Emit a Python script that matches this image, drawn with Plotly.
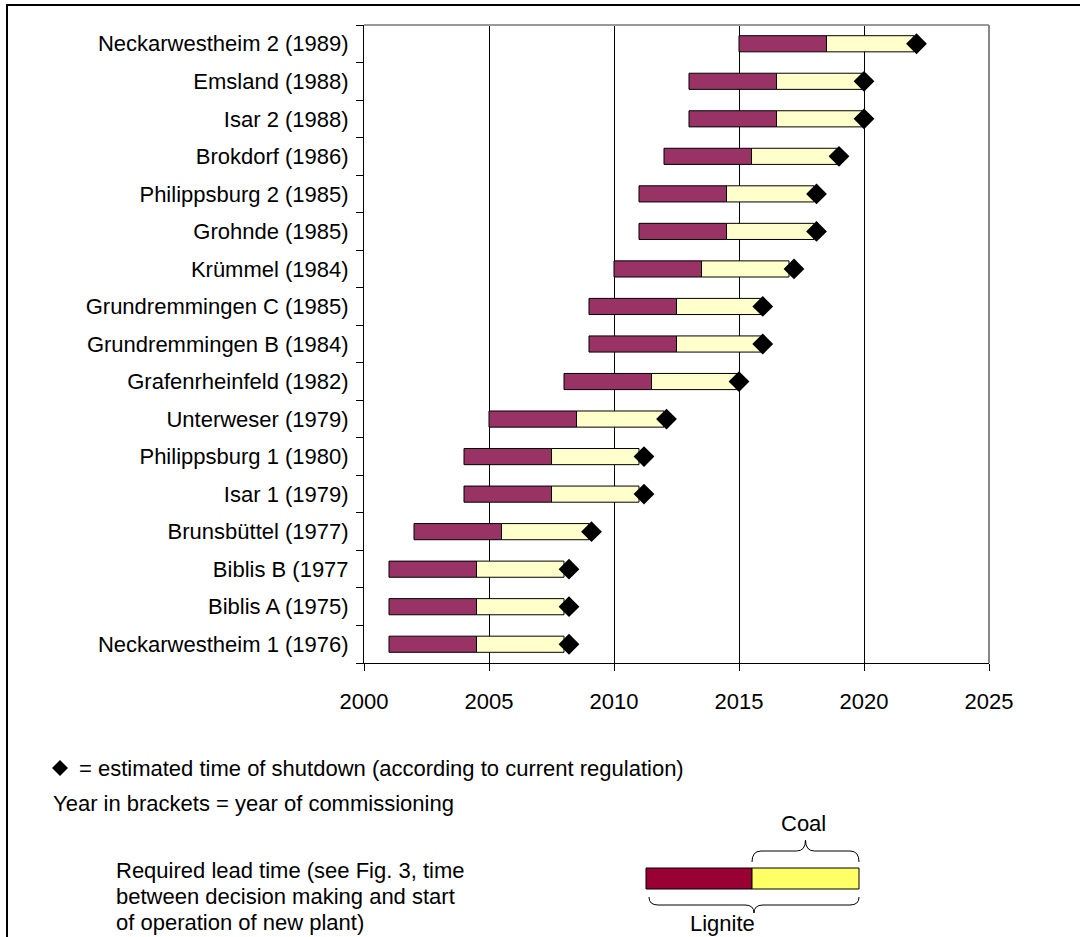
import plotly.graph_objects as go

# Plants (top to bottom as listed in the chart) with commissioning year in brackets
plants = [
    "Neckarwestheim 2 (1989)", "Emsland (1988)", "Isar 2 (1988)", "Brokdorf (1986)",
    "Philippsburg 2 (1985)", "Grohnde (1985)", "Krümmel (1984)", "Grundremmingen C (1985)",
    "Grundremmingen B (1984)", "Grafenrheinfeld (1982)", "Unterweser (1979)",
    "Philippsburg 1 (1980)", "Isar 1 (1979)", "Brunsbüttel (1977)", "Biblis B (1977",
    "Biblis A (1975)", "Neckarwestheim 1 (1976)",
]
# Year a lignite plant decision is needed (start of bar)
lignite_decision = [2015, 2013, 2013, 2012, 2011, 2011, 2010, 2009, 2009, 2008,
                    2005, 2004, 2004, 2002, 2001, 2001, 2001]
# Year a coal plant decision is needed (colour change)
coal_decision = [2018.5, 2016.5, 2016.5, 2015.5, 2014.5, 2014.5, 2013.5, 2012.5, 2012.5,
                 2011.5, 2008.5, 2007.5, 2007.5, 2005.5, 2004.5, 2004.5, 2004.5]
# Start of operation of the replacement plant (end of bar)
operation_start = [2022, 2020, 2020, 2019, 2018, 2018, 2017, 2016, 2016, 2015,
                   2012, 2011, 2011, 2009, 2008, 2008, 2008]
# Estimated shutdown under current regulation
shutdown = [2022.1, 2020.0, 2020.0, 2019.0, 2018.1, 2018.1, 2017.2, 2015.95, 2015.95,
            2015.0, 2012.1, 2011.2, 2011.2, 2009.1, 2008.2, 2008.2, 2008.2]

x_ticks = [2000, 2005, 2010, 2015, 2020, 2025]

PURPLE = "#993366"
PALE_YELLOW = "#FFFFCC"
LEG_LIGNITE = "#990033"
LEG_COAL = "#FFFF66"
FONT = "Liberation Sans, Arial, sans-serif"
FS = 22

W, H = 1080, 937
L, R, T, B = 364, 989, 25, 663  # plot area in pixels


def px(x):
    return (x - L) / (R - L)


def py(y):
    return (B - y) / (B - T)


fig = go.Figure()

lig_len = [c - s for s, c in zip(lignite_decision, coal_decision)]
coal_len = [e - c for c, e in zip(coal_decision, operation_start)]

fig.add_trace(go.Bar(
    y=plants, x=lig_len, base=lignite_decision, orientation="h",
    marker=dict(color=PURPLE, line=dict(color="black", width=1)),
    hoverinfo="skip", showlegend=False,
))
fig.add_trace(go.Bar(
    y=plants, x=coal_len, base=coal_decision, orientation="h",
    marker=dict(color=PALE_YELLOW, line=dict(color="black", width=1)),
    hoverinfo="skip", showlegend=False,
))
fig.add_trace(go.Scatter(
    y=plants, x=shutdown, mode="markers",
    marker=dict(symbol="diamond", size=16, color="black"),
    hoverinfo="skip", showlegend=False, cliponaxis=False,
))

shapes = []
# gray top/right border of the plot area
shapes.append(dict(type="line", xref="paper", yref="paper", x0=0, x1=1, y0=1, y1=1,
                   line=dict(color="#999999", width=2)))
shapes.append(dict(type="line", xref="paper", yref="paper", x0=1, x1=1, y0=0, y1=1,
                   line=dict(color="#888888", width=2)))
# outer frame around the whole figure
shapes.append(dict(type="rect", xref="paper", yref="paper",
                   x0=px(7), x1=px(1090), y0=py(950), y1=py(5),
                   line=dict(color="black", width=2), layer="below"))

# legend bar
shapes.append(dict(type="rect", xref="paper", yref="paper",
                   x0=px(646), x1=px(752), y0=py(889), y1=py(868),
                   fillcolor=LEG_LIGNITE, line=dict(color="black", width=1)))
shapes.append(dict(type="rect", xref="paper", yref="paper",
                   x0=px(752), x1=px(859), y0=py(889), y1=py(868),
                   fillcolor=LEG_COAL, line=dict(color="black", width=1)))


def brace(x0, x1, y_end, y_mid, y_tip):
    xm = (x0 + x1) / 2
    pts = (f"M {px(x0)},{py(y_end)} "
           f"Q {px(x0)},{py(y_mid)} {px(x0 + 9)},{py(y_mid)} "
           f"L {px(xm - 9)},{py(y_mid)} "
           f"Q {px(xm)},{py(y_mid)} {px(xm)},{py(y_tip)} "
           f"Q {px(xm)},{py(y_mid)} {px(xm + 9)},{py(y_mid)} "
           f"L {px(x1 - 9)},{py(y_mid)} "
           f"Q {px(x1)},{py(y_mid)} {px(x1)},{py(y_end)}")
    return dict(type="path", xref="paper", yref="paper", path=pts,
                line=dict(color="black", width=1))


shapes.append(brace(752, 859, 862, 851, 840))
shapes.append(brace(649, 859, 897, 905, 913))

# diamond symbol in the note
dx, dy, dr = 60, 768, 8
shapes.append(dict(type="path", xref="paper", yref="paper",
                   path=(f"M {px(dx - dr)},{py(dy)} L {px(dx)},{py(dy - dr)} "
                         f"L {px(dx + dr)},{py(dy)} L {px(dx)},{py(dy + dr)} Z"),
                   fillcolor="black", line=dict(color="black", width=0)))

annotations = []


def note(text, x, y, xanchor="left", size=FS):
    annotations.append(dict(text=text, xref="paper", yref="paper", x=px(x), y=py(y),
                            xanchor=xanchor, yanchor="middle", showarrow=False,
                            align="left", font=dict(family=FONT, size=size, color="black")))


note("= estimated time of shutdown (according to current regulation)", 77, 768)
note("Year in brackets = year of commissioning", 51, 803)
note("Required lead time (see Fig. 3, time", 114, 870)
note("between decision making and start", 114, 896)
note("of operation of new plant)", 114, 922)
note("Coal", 803, 823, xanchor="center")
note("Lignite", 722, 923, xanchor="center")

fig.update_layout(
    width=W, height=H,
    margin=dict(l=L, r=W - R, t=T, b=H - B, pad=0),
    paper_bgcolor="white", plot_bgcolor="white",
    barmode="overlay", bargap=0.57,
    font=dict(family=FONT, size=FS, color="black"),
    shapes=shapes, annotations=annotations,
    xaxis=dict(range=[2000, 2025], tickvals=x_ticks, ticktext=[str(v) for v in x_ticks],
               showgrid=True, gridcolor="black", gridwidth=1,
               showline=True, linecolor="black", linewidth=1,
               ticks="outside", ticklen=7, tickcolor="black", zeroline=False,
               ticklabelstandoff=12,
               tickfont=dict(family=FONT, size=FS)),
    yaxis=dict(categoryorder="array", categoryarray=plants[::-1],
               range=[-0.5, len(plants) - 0.5],
               showline=True, linecolor="black", linewidth=1,
               ticks="outside", ticklen=7, tickcolor="black", tickson="boundaries",
               showgrid=False, ticklabelstandoff=10,
               tickfont=dict(family=FONT, size=FS)),
)

fig.write_html("out.html")
